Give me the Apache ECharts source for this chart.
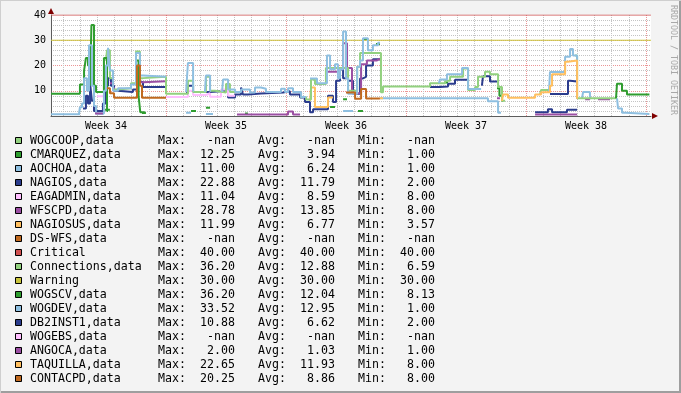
<!DOCTYPE html>
<html><head><meta charset="utf-8">
<script src="https://cdn.jsdelivr.net/npm/echarts@6/dist/echarts.min.js"></script>
<style>html,body{margin:0;padding:0;background:#f3f3f3}#c{width:681px;height:393px}</style>
</head><body><div id="c"></div>
<script>
// ---- time axis: days relative to the start of week 35 ----
const weekLabels = ['Week 34','Week 35','Week 36','Week 37','Week 38'];
const weekCenters = [-3.5, 3.5, 10.5, 17.5, 24.5];
const weekBounds = [0, 7, 14, 21, 28];
const dayTicks = [-6,-5,-4,-3,-2,-1,1,2,3,4,5,6,8,9,10,11,12,13,15,16,17,18,19,20,22,23,24,25,26,27];
const yLabels = [10, 20, 30, 40];
const yMinor = [2,4,6,8,12,14,16,18,22,24,26,28,32,34,36,38];
const yMajor = [10, 20, 30];

// ---- series values: segments of [day, value] (value held until next point) ----
const cmarquez = [
 [[-3.56,2.5],[-3.27,2.5]],
 [[-1.40,1.2],[-1.17,1.2]],
 [[1.46,2],[1.75,2]],
 [[2.33,3.3],[2.57,3.3]],
 [[4.61,1],[4.78,1]],
 [[9.57,3.6],[9.86,3.6]],
 [[10.33,6.6],[10.56,6.6]],
 [[11.20,2],[11.49,2]],
 [[16.28,13.3],[16.45,13.3]],
 [[19.31,11],[19.45,8],[19.60,6],[19.66,6]]
];
const aochoa = [
 [[-6.71,0.7],[-5.02,0.7]],
 [[-4.08,1],[-3.62,1]],
 [[1.17,1.3],[1.46,1.3]],
 [[2.33,0.8],[2.74,0.8]],
 [[10.33,2],[10.91,2]],
 [[12.48,7],[18.78,5.8],[19.37,1.3],[19.54,1.3]],
 [[24.27,7],[24.33,9.5],[24.73,7],[24.80,7]]
];
const nagios = [
 [[-4.84,3],[-4.67,8],[-4.55,5],[-4.43,13],[-4.32,6],[-4.20,2],[-3.68,5],[-3.50,12],[-3.38,15],[-3.21,12],[-3.03,10],[-2.80,9.5],[-1.93,10.5],[-1.63,12.5],[-1.52,13.5],[-1.34,11.5],[0,11.5]],
 [[1.22,9],[1.28,12],[1.58,9.5],[2.57,10],[3.62,7.3],[4.03,8.5],[4.38,11.3],[4.49,8.5],[4.78,8.9],[5.54,9.3],[6.83,9.8],[7.23,8.5],[7.82,7.3],[8.11,5.5],[8.40,1.5],[8.58,2.7],[9.45,8],[9.74,5.5],[9.92,14],[10.15,18.5],[10.33,15],[10.62,14],[10.91,8.8],[11.32,14.9],[11.49,15.5],[11.67,20],[12.07,22.5],[12.48,22.5]],
 [[15.40,11.5],[15.98,11.7],[16.45,12.8],[16.86,14.4],[17.62,14.4]],
 [[18.43,12],[18.49,15.7],[18.90,13.7],[19.31,13.7]],
 [[22.40,8.7],[23.45,14],[23.57,13.7],[23.98,13.7]]
];
const eagadmin = [
 [[-4.03,7.8],[-3.56,7.8]],
 [[0,7.5],[1.28,10],[1.58,8.3],[2.33,9],[2.57,7.6],[3.21,10.5],[3.62,8],[4.03,8]]
];
const wfscpd = [
 [[-3.27,13],[-3.09,11],[-2.98,11]],
 [[-1.69,13.4],[-1.34,13.8],[0,13.8]],
 [[9.33,17.5],[10.03,19],[10.33,28.8],[10.56,19],[10.85,9],[11.38,20.5],[11.72,22],[12.31,22.7],[12.48,22.7]],
 [[19.31,7],[19.48,7]],
 [[24.45,6.6],[24.73,6.6]],
 [[25.20,6.6],[25.90,6.6]]
];
const nagiosus = [
 [[8.40,6],[8.46,11.3],[8.69,3.6],[9.45,7.3],[9.74,7.3]],
 [[12.48,7],[12.66,7]]
];
const critical = [[[-6.71,40],[28.29,40]]];
const connections = [
 [[-3.50,22],[-3.44,26],[-3.27,15],[-3.09,10.5],[-2.80,11],[-2.04,13],[-1.75,25.5],[-1.52,15],[-1.34,15.5],[0,8.8],[1.28,14],[1.58,9.5],[2.33,15.5],[2.57,10],[2.86,9.3],[3.50,12.7],[3.73,9.5],[4.32,10],[4.40,10]],
 [[7.82,7.5],[8.17,6.5],[8.46,14.5],[8.69,12.7],[9.33,19],[10.62,10],[11.15,19.5],[11.32,25],[12.54,9.4],[12.66,11.7],[15.40,13],[16.28,14],[16.57,15.5],[17.33,18.8],[17.62,10.3],[18.03,11.5],[18.20,15.5],[18.61,17.5],[18.90,16.5],[19.37,11.5],[19.60,6],[19.78,6]],
 [[21.82,8.5],[21.88,10.3],[22.40,10.3]],
 [[23.86,24],[23.98,7],[26.31,7]]
];
const warning = [[[-6.71,30],[28.29,30]]];
const wogscv = [
 [[-6.71,8.8],[-5.02,12.5],[-4.78,18],[-4.67,23],[-4.55,20],[-4.43,12],[-4.35,36],[-4.20,12],[-4.08,9.5],[-3.62,23],[-3.44,2],[-3.38,2]],
 [[-1.75,22],[-1.60,8],[-1.50,1.5],[-1.23,1.5]],
 [[11.49,30.5],[11.72,30.5]],
 [[12.25,28.5],[12.48,28.5]],
 [[26.25,7],[26.31,12.8],[26.60,10],[26.89,8.5],[28.20,8.5]]
];
const wogdev = [
 [[-5.08,0.7],[-5.02,3.5],[-4.90,5],[-4.78,15],[-4.61,10],[-4.49,28],[-4.32,12],[-4.20,4],[-4.08,1],[-3.62,10],[-3.50,20],[-3.38,27],[-3.27,18],[-3.09,10],[-2.80,11],[-2.04,12.5],[-1.75,25],[-1.52,16],[-1.34,15.5],[0,15.5]],
 [[1.17,9.5],[1.28,21],[1.58,10],[1.64,10]],
 [[2.27,9.5],[2.33,16],[2.57,10],[2.63,10]],
 [[3.27,9.5],[3.33,14.5],[3.62,10.5],[4.03,9.5],[4.38,10.5],[4.90,9.3],[5.19,11.3],[5.54,10.8],[5.83,9.5],[6.71,10.8],[6.94,9.5],[7.12,11],[7.41,9.5],[7.88,7.5],[8.17,7.5]],
 [[8.40,14.9],[8.81,13],[9.39,24],[9.57,18.5],[9.86,20.5],[10.03,15],[10.15,18.5],[10.33,33.5],[10.50,15],[10.62,8.8],[11.15,19.5],[11.32,22],[11.49,30.8],[11.78,26],[12.07,28],[12.37,29],[12.48,29]],
 [[15.92,13],[15.98,14.5],[16.39,16.5],[17.27,19],[17.62,10.7],[18.38,10.7]],
 [[22.34,9.4],[22.40,17.4],[23.28,23.5],[23.57,26.5],[23.74,24],[23.98,7],[24.03,7]],
 [[26.31,7],[26.37,3],[26.60,1.3],[26.83,0.8],[28.20,0.8]]
];
const db2inst1 = [
 [[21.53,1.5],[22.28,2.7],[22.52,1.5],[23.39,2.5],[23.98,2.5]]
];
const angoca = [
 [[-4.14,1],[-3.68,1]],
 [[4.14,0.6],[7.12,1.8],[7.41,0.6],[7.82,0.6]],
 [[21.53,0.6],[23.98,0.6]]
];
const taquilla = [
 [[19.60,6],[19.66,8.5],[19.95,7.2],[21.53,8.5],[21.88,9.4],[22.40,12],[22.52,16.5],[23.28,21.5],[23.45,22],[23.98,7],[24.03,7]]
];
const contacpd = [
 [[-3.44,11],[-3.27,9],[-3.03,7.2],[-1.69,20],[-1.52,12],[-1.40,7.2],[0,7.2]],
 [[10.50,9.3],[11.03,6.8],[11.38,10.7],[11.67,6.9],[12.48,6.9]]
];

// ---- legend table ----
const legendNames = ['WOGCOOP,data','CMARQUEZ,data','AOCHOA,data','NAGIOS,data','EAGADMIN,data','WFSCPD,data','NAGIOSUS,data','DS-WFS,data','Critical','Connections,data','Warning','WOGSCV,data','WOGDEV,data','DB2INST1,data','WOGEBS,data','ANGOCA,data','TAQUILLA,data','CONTACPD,data'];
const legendMax = ['-nan','12.25','11.00','22.88','11.04','28.78','11.99','-nan','40.00','36.20','30.00','36.20','33.52','10.88','-nan','2.00','22.65','20.25'];
const legendAvg = ['-nan','3.94','6.24','11.79','8.59','13.85','6.77','-nan','40.00','12.88','30.00','12.04','12.95','6.62','-nan','1.03','11.93','8.86'];
const legendMin = ['-nan','1.00','1.00','2.00','8.00','8.00','3.57','-nan','40.00','6.59','30.00','8.13','1.00','2.00','-nan','1.00','8.00','8.00'];

const C = {
  lgreen:'#92d17f', dgreen:'#2f9d2f', lblue:'#8ebfe0', dblue:'#2b3c8d', pink:'#ffbfff',
  purple:'#9b4fa3', orange:'#ffbf5f', brown:'#c0691f', red:'#d05050', olive:'#c8c43c'
};
const legendColors = [C.lgreen,C.dgreen,C.lblue,C.dblue,C.pink,C.purple,C.orange,C.brown,C.red,C.lgreen,C.olive,C.dgreen,C.lblue,C.dblue,C.pink,C.purple,C.orange,C.brown];

const seriesDefs = [
  ['CMARQUEZ,data', cmarquez, C.dgreen, 2],
  ['AOCHOA,data', aochoa, C.lblue, 2],
  ['NAGIOS,data', nagios, C.dblue, 2],
  ['EAGADMIN,data', eagadmin, C.pink, 2],
  ['WFSCPD,data', wfscpd, C.purple, 2],
  ['NAGIOSUS,data', nagiosus, C.orange, 2],
  ['Critical', critical, C.red, 1.2],
  ['Connections,data', connections, C.lgreen, 2],
  ['Warning', warning, C.olive, 1.2],
  ['WOGSCV,data', wogscv, C.dgreen, 2],
  ['WOGDEV,data', wogdev, C.lblue, 2],
  ['DB2INST1,data', db2inst1, C.dblue, 2],
  ['ANGOCA,data', angoca, C.purple, 2],
  ['TAQUILLA,data', taquilla, C.orange, 2],
  ['CONTACPD,data', contacpd, C.brown, 2]
];

function toData(segs){
  const out = [];
  segs.forEach((s, i) => {
    if (i > 0) { const prev = segs[i-1]; out.push([prev[prev.length-1][0], null]); }
    s.forEach(p => out.push(p));
  });
  return out;
}

const FONT = 'DejaVu Sans Mono';
const xMin = -6.708, xMax = 28.292;

const series = seriesDefs.map(d => ({
  name: d[0], type: 'line', step: 'end', data: toData(d[1]),
  xAxisIndex: 0, yAxisIndex: 0,
  showSymbol: false, symbol: 'none', connectNulls: false, silent: true,
  lineStyle: { color: d[2], width: d[3] }, itemStyle: { color: d[2] }
}));

// legend graphic
const graphic = [];
const rowY0 = 141, rowStep = 14;
legendNames.forEach((n, i) => {
  const y = rowY0 + i * rowStep;
  graphic.push({ type:'rect', shape:{ x:15.5, y:y-3.5, width:6, height:6 }, style:{ fill: legendColors[i], stroke:'#000', lineWidth:1 } });
  const t = (txt, x, align) => graphic.push({ type:'text', style:{ text: txt, x: x, y: y, fill:'#000', font: '11.6px "' + FONT + '"', textAlign: align, textVerticalAlign:'middle', verticalAlign:'middle' } });
  t(n, 30, 'left');
  t('Max:', 158, 'left'); t(legendMax[i], 235, 'right');
  t('Avg:', 258, 'left'); t(legendAvg[i], 335, 'right');
  t('Min:', 358, 'left'); t(legendMin[i], 435, 'right');
});
// watermark
graphic.push({ type:'text', x: 673, y: 60, rotation: -Math.PI/2,
  style:{ text:'RRDTOOL / TOBI OETIKER', x:0, y:0, fill:'#a8a8a8', font:'8.3px "' + FONT + '"', textAlign:'center', textVerticalAlign:'middle', verticalAlign:'middle' } });
// axis arrows
graphic.push({ type:'polygon', shape:{ points:[[48,14],[54,14],[51,8]] }, style:{ fill:'#800000' } });
graphic.push({ type:'polygon', shape:{ points:[[652,113],[652,119],[658,116]] }, style:{ fill:'#800000' } });
// frame shading
graphic.push({ type:'rect', shape:{ x:0, y:391, width:681, height:2 }, style:{ fill:'#9e9e9e' } });
graphic.push({ type:'rect', shape:{ x:679, y:0, width:2, height:393 }, style:{ fill:'#9e9e9e' } });
graphic.push({ type:'rect', shape:{ x:0, y:0, width:681, height:1 }, style:{ fill:'#cfcfcf' } });
graphic.push({ type:'rect', shape:{ x:0, y:0, width:1, height:393 }, style:{ fill:'#cfcfcf' } });

const chart = echarts.init(document.getElementById('c'), null, { renderer:'canvas', width:681, height:393 });
chart.setOption({
  animation: false,
  backgroundColor: '#f3f3f3',
  grid: { left: 51, top: 15, width: 600, height: 101, show: true, backgroundColor: '#ffffff', borderWidth: 0, containLabel: false, outerBoundsMode: 'none' },
  xAxis: [
    { type:'value', min:xMin, max:xMax, position:'bottom',
      axisLine:{ show:true, onZero:false, lineStyle:{ color:'#5c5c5c', width:1 } },
      axisTick:{ show:false, customValues: dayTicks },
      axisLabel:{ show:false },
      splitLine:{ show:true, lineStyle:{ color:'#c4c4c4', width:1, type:[1,1] } } },
    { type:'value', min:xMin, max:xMax, position:'bottom',
      axisLine:{ show:false, onZero:false },
      axisTick:{ show:false, customValues: weekBounds },
      axisLabel:{ show:true, customValues: weekCenters, color:'#000', fontFamily: FONT, fontSize: 10, margin: 5,
        formatter: v => { for (let i = 0; i < weekCenters.length; i++) if (Math.abs(weekCenters[i]-v) < 1e-6) return weekLabels[i]; return ''; } },
      splitLine:{ show:true, lineStyle:{ color:'#eb9696', width:1, type:[1,1] } } }
  ],
  yAxis: [
    { type:'value', min:0, max:40, position:'left',
      axisLine:{ show:true, onZero:false, lineStyle:{ color:'#5c5c5c', width:1 } },
      axisTick:{ show:false, customValues: yMinor },
      axisLabel:{ show:true, customValues: yLabels, color:'#000', fontFamily: FONT, fontSize: 10, margin: 5 },
      splitLine:{ show:true, lineStyle:{ color:'#c4c4c4', width:1, type:[1,1] } } },
    { type:'value', min:0, max:40, position:'left',
      axisLine:{ show:false, onZero:false }, axisTick:{ show:false, customValues: yMajor }, axisLabel:{ show:false },
      splitLine:{ show:true, lineStyle:{ color:'#eb9696', width:1, type:[1,1] } } }
  ],
  series: series,
  graphic: graphic
});
</script></body></html>
